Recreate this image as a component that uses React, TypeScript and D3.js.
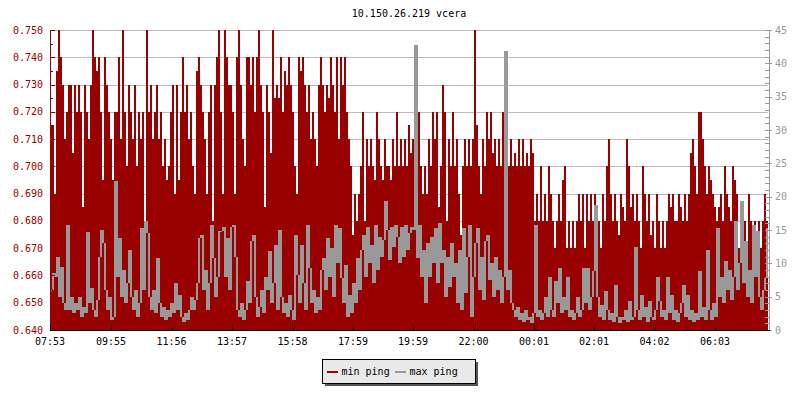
import React from "react";
import * as d3 from "d3";

// ---- data ----
const title = "10.150.26.219 vcera";
const STEP_MIN = 4; // minutes per sample
const timeLabels = ["07:53", "09:55", "11:56", "13:57", "15:58", "17:59", "19:59", "22:00", "00:01", "02:01", "04:02", "06:03"];
const timeTickMinutes = [0, 122, 243, 364, 485, 606, 726, 847, 968, 1088, 1209, 1330];
const leftTicks = [0.64, 0.65, 0.66, 0.67, 0.68, 0.69, 0.70, 0.71, 0.72, 0.73, 0.74, 0.75];
const rightTicks = [0, 5, 10, 15, 20, 25, 30, 35, 40, 45];

// min ping [ms] (left axis)
const minPing = [
  .715, .715, .690, .735, .750, .740, .730, .710, .720, .730,
  .730, .705, .730, .720, .730, .720, .685, .730, .720, .710,
  .730, .750, .740, .735, .740, .720, .695, .740, .730, .720,
  .710, .695, .720, .720, .740, .710, .750, .720, .700, .730,
  .720, .710, .730, .700, .720, .710, .720, .680, .750, .720,
  .730, .710, .720, .730, .710, .720, .700, .710, .695, .700,
  .720, .730, .690, .730, .695, .720, .740, .720, .730, .710,
  .720, .700, .690, .735, .740, .730, .720, .710, .690, .720,
  .730, .680, .730, .740, .750, .720, .690, .750, .740, .730,
  .730, .720, .690, .740, .750, .730, .710, .700, .740, .740,
  .730, .740, .720, .740, .750, .730, .720, .685, .730, .720,
  .705, .750, .725, .730, .725, .740, .720, .735, .730, .740,
  .730, .720, .700, .690, .740, .735, .740, .730, .720, .730,
  .710, .720, .710, .700, .730, .740, .730, .720, .730, .725,
  .740, .730, .720, .740, .710, .740, .730, .740, .720, .710,
  .700, .675, .690, .680, .690, .700, .720, .680, .710, .700,
  .710, .700, .695, .720, .710, .700, .695, .710, .700, .700,
  .695, .710, .700, .720, .700, .710, .700, .710, .700, .715,
  .705, .710, .690, .700, .720, .700, .690, .700, .690, .710,
  .700, .720, .710, .720, .685, .700, .730, .720, .680, .710,
  .700, .720, .700, .710, .690, .675, .700, .710, .700, .710,
  .700, .710, .750, .715, .700, .690, .710, .700, .720, .710,
  .720, .705, .710, .700, .710, .700, .720, .710, .680, .700,
  .710, .700, .705, .700, .710, .700, .710, .700, .705, .700,
  .710, .705, .680, .690, .680, .700, .680, .690, .680, .700,
  .690, .680, .670, .680, .690, .680, .695, .700, .670, .680,
  .670, .680, .670, .680, .690, .680, .690, .670, .690, .680,
  .690, .680, .690, .670, .680, .670, .690, .680, .700, .710,
  .690, .680, .690, .680, .675, .690, .685, .680, .710, .700,
  .685, .690, .680, .690, .680, .670, .700, .690, .680, .690,
  .675, .680, .670, .690, .680, .670, .680, .670, .680, .690,
  .685, .690, .680, .680, .690, .685, .680, .690, .680, .690,
  .705, .710, .700, .690, .720, .720, .710, .700, .690, .700,
  .695, .690, .685, .680, .685, .690, .680, .700, .690, .685,
  .680, .700, .695, .690, .670, .680, .670, .680, .670, .690,
  .680, .675, .680, .670, .680, .670, .680, .690, .680,
];

// max ping [ms] (right axis)
const maxPing = [
  6, 8.5, 8, 11, 5, 9.5, 4, 3, 15.8, 3,
  5, 2.5, 4, 3, 5, 2, 3.5, 2.5, 14.7, 4,
  6.3, 3, 2, 4.5, 11, 15, 13, 6, 3, 5,
  1.5, 2, 22.3, 8, 13.8, 5, 9, 4, 7, 12,
  5, 3, 6, 2, 4, 15.3, 6, 16.3, 14.5, 5,
  3, 6, 2.5, 10.8, 4, 2, 3.5, 1.5, 3, 2,
  4, 2.5, 7, 3, 5.3, 2, 1.2, 2.5, 1.5, 3,
  5, 3, 4.5, 7, 13.8, 14.3, 6, 9, 3, 7,
  15.8, 10.8, 5, 8, 14.8, 14.8, 15.5, 8, 13.8, 6,
  15.5, 15.8, 11, 3, 2, 4, 1.5, 3, 7.3, 4,
  13.3, 14.3, 5, 2, 3.5, 6, 2.5, 8, 6, 11.8,
  4, 7, 12.8, 3, 15, 5, 2.5, 4, 2, 5.3,
  3, 1.5, 14.3, 8.3, 4, 12.8, 7, 3, 15.8, 9.3,
  4, 6, 2.5, 5, 3, 9, 10.8, 6, 13.8, 8,
  12.3, 5, 15.8, 10, 15.3, 7.8, 4, 9.8, 2, 5.3,
  2.5, 7, 4, 10.8, 6, 12, 14.3, 8, 15.5, 10,
  12.8, 7, 15.8, 9, 14, 11, 13.5, 19.3, 15, 10.5,
  15.5, 12.5, 15.8, 14, 10, 15.5, 11, 15.8, 12, 14.5,
  15.5, 15, 42.8, 10.8, 15.8, 8, 12, 4, 13, 8,
  14, 10, 15.3, 7, 16, 10, 12, 5, 11, 6.5,
  13, 8, 10, 4, 12, 3, 15.3, 5.5, 11, 15.8,
  2, 8, 13, 15.3, 6, 11, 4.5, 13.3, 14.3, 7.5,
  10, 5, 11, 6, 9, 4, 8, 41.8, 6, 9,
  4, 3, 2, 3.5, 1.5, 2.5, 1.2, 3, 1.5, 2,
  1, 2.5, 15.8, 2, 3, 1.5, 2.5, 5, 2, 8,
  3, 2, 7.3, 4, 9.3, 2.5, 5, 3, 8, 2,
  3, 1.5, 2.5, 5, 2, 3, 9.3, 4, 9.3, 3,
  5, 8.8, 18.8, 5, 2, 3.8, 1.5, 5.8, 3, 1.5,
  2.5, 1.2, 6.8, 2, 1, 2, 1.5, 3, 1.2, 4.3,
  1.5, 2, 12.5, 3, 1.5, 5.3, 2, 3.5, 1.2, 4.3,
  2, 1.5, 3, 8, 4.3, 2, 3, 1.5, 8, 2.5,
  5.3, 1.5, 3, 1.2, 2.5, 4, 6.8, 2, 5.3, 1.5,
  3, 1.2, 2.5, 1.5, 8.8, 2, 3.5, 1.5, 12, 3,
  1.5, 4, 2, 15.3, 5, 8, 4, 10.3, 6, 9,
  4.5, 8, 16.3, 6, 10, 19.3, 7, 13.3, 5, 9,
  4, 15.8, 8, 14.8, 5, 3, 6, 7.8, 15.3,
];

const legendItems = [
  { label: "min ping", color: "#990000" },
  { label: "max ping", color: "#999999" },
];

// ---- layout ----
const W = 800;
const H = 400;
const PL = 50;
const PR = 768;
const PT = 30;
const PB = 330;
const FONT = "'DejaVu Sans Mono', 'Liberation Mono', monospace";
const RED = "#990000";
const GRAY = "#999999";

export default function App() {
  const totalMin = minPing.length * STEP_MIN;
  const x = d3.scaleLinear().domain([0, totalMin]).range([PL, PR]);
  const yL = d3.scaleLinear().domain([0.64, 0.75]).range([PB, PT]);
  const yR = d3.scaleLinear().domain([0, 45]).range([PB, PT]);

  const minPts = minPing.map((v, i) => ({ t: i * STEP_MIN, v }));
  minPts.push({ t: totalMin, v: minPing[minPing.length - 1] });

  const area = d3
    .area<{ t: number; v: number }>()
    .curve(d3.curveStepAfter)
    .x((d) => x(d.t))
    .y0(yL(0.64))
    .y1((d) => yL(d.v));

  // max ping drawn as a pixel-column line: each sample's column spans from the
  // previous value to its own value (as a 1px-per-sample line would look)
  const grayCols = maxPing.map((v, i) => {
    const prev = i > 0 ? maxPing[i - 1] : v;
    const hi = Math.max(prev, v);
    const lo = Math.min(prev, v);
    const y1 = yR(hi);
    const y2 = yR(lo);
    return {
      x: x(i * STEP_MIN),
      w: x((i + 1) * STEP_MIN) - x(i * STEP_MIN),
      y: y1,
      h: Math.max(1, y2 - y1),
    };
  });

  const leftMinor = d3.range(0, 11).map((k) => 0.645 + k * 0.01);
  const rightMinor = d3.range(0, 46);

  // legend
  const lgX = 322;
  const lgY = 359;
  const lgW = 153;
  const lgH = 24;

  return (
    <svg
      width={W}
      height={H}
      style={{ position: "absolute", left: 0, top: 0, background: "#ffffff" }}
      fontFamily={FONT}
    >
      <rect x={0} y={0} width={W} height={H} fill="#ffffff" />
      <text x={409} y={17} fontSize={10} textAnchor="middle" fill="#000">
        {title}
      </text>

      {/* grid */}
      {leftTicks.map((t) => (
        <line
          key={"g" + t}
          x1={PL}
          x2={PR}
          y1={Math.round(yL(t)) + 0.5}
          y2={Math.round(yL(t)) + 0.5}
          stroke="#bbbbbb"
          strokeWidth={1}
        />
      ))}

      {/* min ping area */}
      <path d={area(minPts) || ""} fill={RED} shapeRendering="crispEdges" />
      {/* max ping line */}
      <g fill={GRAY} shapeRendering="crispEdges">
        {grayCols.map((c, i) => (
          <rect key={"m" + i} x={c.x} y={c.y} width={c.w} height={c.h} />
        ))}
      </g>

      {/* left axis */}
      <line x1={PL + 0.5} x2={PL + 0.5} y1={PT} y2={PB} stroke={RED} strokeWidth={1} />
      {leftTicks.map((t) => (
        <g key={"l" + t}>
          <line
            x1={PL}
            x2={PL + 5}
            y1={Math.round(yL(t)) + 0.5}
            y2={Math.round(yL(t)) + 0.5}
            stroke={RED}
          />
          <text x={43} y={yL(t) + 3.5} fontSize={10} textAnchor="end" fill={RED}>
            {t.toFixed(3)}
          </text>
        </g>
      ))}
      {leftMinor.map((t) => (
        <line
          key={"lm" + t}
          x1={PL}
          x2={PL + 3}
          y1={Math.round(yL(t)) + 0.5}
          y2={Math.round(yL(t)) + 0.5}
          stroke={RED}
        />
      ))}

      {/* right axis */}
      <line x1={PR + 1.5} x2={PR + 1.5} y1={PT} y2={PB} stroke={GRAY} strokeWidth={1} />
      {rightMinor.map((t) => (
        <line
          key={"rm" + t}
          x1={PR - 3}
          x2={PR + 2}
          y1={Math.round(yR(t)) + 0.5}
          y2={Math.round(yR(t)) + 0.5}
          stroke={GRAY}
        />
      ))}
      {rightTicks.map((t) => (
        <g key={"r" + t}>
          <line
            x1={PR - 3}
            x2={PR + 4}
            y1={Math.round(yR(t)) + 0.5}
            y2={Math.round(yR(t)) + 0.5}
            stroke={GRAY}
          />
          <text x={775} y={yR(t) + 3.5} fontSize={10} textAnchor="start" fill={GRAY}>
            {t}
          </text>
        </g>
      ))}

      {/* x axis */}
      <line x1={PL} x2={PR + 2} y1={PB + 0.5} y2={PB + 0.5} stroke="#000" strokeWidth={1} />
      {timeTickMinutes.map((m, i) => (
        <g key={"x" + i}>
          <line
            x1={Math.round(x(m)) + 0.5}
            x2={Math.round(x(m)) + 0.5}
            y1={PB - 5}
            y2={PB}
            stroke="#000"
          />
          <text x={x(m)} y={345} fontSize={10} textAnchor="middle" fill="#000">
            {timeLabels[i]}
          </text>
        </g>
      ))}

      {/* legend */}
      <rect x={lgX + 3} y={lgY + 3} width={lgW} height={lgH} fill="#555555" />
      <rect x={lgX + 0.5} y={lgY + 0.5} width={lgW} height={lgH} fill="#e9e9e9" stroke="#000" strokeWidth={1} />
      {legendItems.map((it, i) => {
        const ox = lgX + 5 + i * 68;
        return (
          <g key={it.label}>
            <rect x={ox} y={lgY + 12} width={11} height={2} fill={it.color} />
            <text x={ox + 14.5} y={lgY + 16} fontSize={10} fill="#000">
              {it.label}
            </text>
          </g>
        );
      })}
    </svg>
  );
}
